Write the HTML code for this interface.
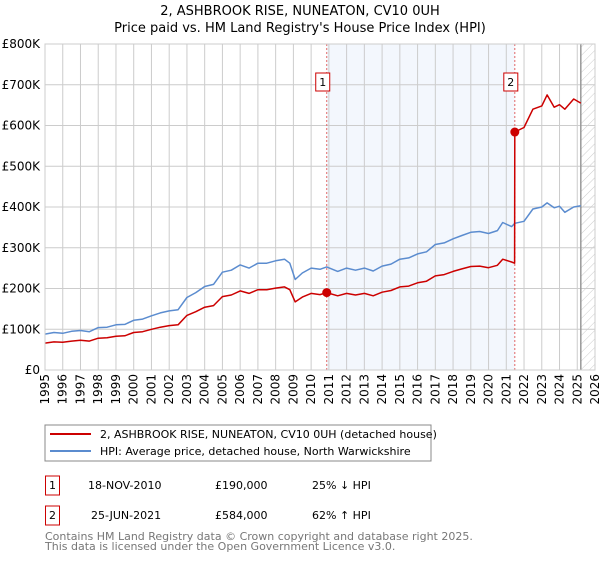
<!DOCTYPE html>
<html><head><meta charset="utf-8"><style>
body{margin:0;background:#fff;}
svg{font-family:"DejaVu Sans","Liberation Sans",sans-serif;}
</style></head><body>
<svg id="chart" width="600" height="560" xmlns="http://www.w3.org/2000/svg">
<defs><pattern id="hatch" width="6" height="6" patternUnits="userSpaceOnUse" patternTransform="rotate(45)"><line x1="0" y1="0" x2="0" y2="6" stroke="#ccc" stroke-width="1"/></pattern></defs>
<text x="300" y="15" text-anchor="middle" font-size="13">2, ASHBROOK RISE, NUNEATON, CV10 0UH</text>
<text x="300" y="32" text-anchor="middle" font-size="13">Price paid vs. HM Land Registry's House Price Index (HPI)</text>
<g id="plot"></g>
<rect x="45" y="425" width="386" height="36" fill="#fff" stroke="#888"/>
<line x1="50" y1="434" x2="91" y2="434" stroke="#cc0000" stroke-width="2"/>
<text x="100" y="438" font-size="11">2, ASHBROOK RISE, NUNEATON, CV10 0UH (detached house)</text>
<line x1="50" y1="451" x2="91" y2="451" stroke="#5b8ccf" stroke-width="2"/>
<text x="100" y="455" font-size="11">HPI: Average price, detached house, North Warwickshire</text>
<g font-size="11">
<rect x="45.5" y="476" width="14" height="19" fill="none" stroke="#cc0000"/>
<text x="52.5" y="489" text-anchor="middle">1</text>
<text x="88" y="489">18-NOV-2010</text>
<text x="215" y="489">£190,000</text>
<text x="312" y="489">25% ↓ HPI</text>
<rect x="45.5" y="506" width="14" height="19" fill="none" stroke="#cc0000"/>
<text x="52.5" y="519" text-anchor="middle">2</text>
<text x="91" y="519">25-JUN-2021</text>
<text x="215" y="519">£584,000</text>
<text x="312" y="519">62% ↑ HPI</text>
</g>
<text x="45" y="540" font-size="11" fill="#777">Contains HM Land Registry data © Crown copyright and database right 2025.</text>
<text x="45" y="550" font-size="11" fill="#777">This data is licensed under the Open Government Licence v3.0.</text>
</svg>
<script>
const hpiYears=[1995,1995.5,1996,1996.5,1997,1997.5,1998,1998.5,1999,1999.5,2000,2000.5,2001,2001.5,2002,2002.5,2003,2003.5,2004,2004.5,2005,2005.5,2006,2006.5,2007,2007.5,2008,2008.5,2008.8,2009.1,2009.5,2010,2010.5,2010.88,2011.5,2012,2012.5,2013,2013.5,2014,2014.5,2015,2015.5,2016,2016.5,2017,2017.5,2018,2018.5,2019,2019.5,2020,2020.5,2020.8,2021.3,2021.48,2022,2022.5,2023,2023.3,2023.7,2024,2024.3,2024.8,2025.2];
const hpiValues=[88,92,90,95,97,94,104,105,111,112,122,125,133,140,145,148,178,190,205,210,240,245,258,250,262,262,268,272,262,222,238,250,247,253,242,250,245,250,243,255,260,272,275,285,290,308,312,322,330,338,340,335,342,362,352,360,365,395,400,410,398,402,387,400,403];
const redYears=[1995,1995.5,1996,1996.5,1997,1997.5,1998,1998.5,1999,1999.5,2000,2000.5,2001,2001.5,2002,2002.5,2003,2003.5,2004,2004.5,2005,2005.5,2006,2006.5,2007,2007.5,2008,2008.5,2008.8,2009.1,2009.5,2010,2010.5,2010.88,2011.5,2012,2012.5,2013,2013.5,2014,2014.5,2015,2015.5,2016,2016.5,2017,2017.5,2018,2018.5,2019,2019.5,2020,2020.5,2020.8,2021.3,2021.47,2021.48,2022,2022.5,2023,2023.3,2023.7,2024,2024.3,2024.8,2025.2];
const redValues=[66,69,68,71,73,71,78,79,83,84,92,94,100,105,109,111,134,143,154,158,180,184,194,188,197,197,201,204,197,167,179,188,185,190,182,188,184,188,182,191,195,204,206,214,218,231,234,242,248,254,255,251,257,272,265,262,584,595,640,648,675,645,651,640,665,655];
const saleYears=[2010.88,2021.48];
const saleValues=[190,584];
const saleLabels=["1","2"];
const yTicks=[0,100,200,300,400,500,600,700,800];
const yTickLabels=["£0","£100K","£200K","£300K","£400K","£500K","£600K","£700K","£800K"];
const xTicks=[1995,1996,1997,1998,1999,2000,2001,2002,2003,2004,2005,2006,2007,2008,2009,2010,2011,2012,2013,2014,2015,2016,2017,2018,2019,2020,2021,2022,2023,2024,2025,2026];
const forecastStart=2025.2;

const L=45,R=595,T=44,B=370;
const xS=y=>L+(y-1995)/(2026-1995)*(R-L);
const yS=v=>B-v/800*(B-T);
const NS="http://www.w3.org/2000/svg";
const g=document.getElementById('plot');
function mk(tag,attrs,parent){const e=document.createElementNS(NS,tag);for(const k in attrs)e.setAttribute(k,attrs[k]);(parent||g).appendChild(e);return e;}

let e=mk('rect',{x:xS(saleYears[0]),y:T,width:xS(saleYears[1])-xS(saleYears[0]),height:B-T,fill:'#eef3fc',opacity:0.7});


e=mk('rect',{x:xS(forecastStart),y:T,width:R-xS(forecastStart),height:B-T,fill:'url(#hatch)'});


xTicks.forEach(t=>{
 let l=mk('line',{x1:xS(t),x2:xS(t),y1:T,y2:B,stroke:'#ccc','stroke-width':1});
 
 
 let tx=mk('text',{x:0,y:0,'font-size':12,'text-anchor':'end',transform:`translate(${xS(t)+4},374) rotate(-90)`});
 tx.textContent=t;
 
 
});
yTicks.forEach((t,i)=>{
 let l=mk('line',{x1:L,x2:R,y1:yS(t),y2:yS(t),stroke:'#ccc','stroke-width':1});
 
 
 let tx=mk('text',{x:40,y:yS(t)+4,'font-size':12,'text-anchor':'end'});
 tx.textContent=yTickLabels[i];
 
 
});
e=mk('line',{x1:xS(forecastStart),x2:xS(forecastStart),y1:T,y2:B,stroke:'#999','stroke-width':1.5});


saleYears.forEach((s,i)=>{
 let l=mk('line',{x1:xS(s),x2:xS(s),y1:T,y2:B,stroke:'#e06666','stroke-width':1,'stroke-dasharray':'2,2'});
 
 
});
function path(xs,vs,color,name){
 const d=xs.map((x,i)=>(i?'L':'M')+xS(x).toFixed(1)+','+yS(vs[i]).toFixed(1)).join('');
 let p=mk('path',{d:d,fill:'none',stroke:color,'stroke-width':1.5,'stroke-linejoin':'round'});
 
 
}
path(hpiYears,hpiValues,'#5b8ccf','hpi-line');
path(redYears,redValues,'#cc0000','property-price-line');
saleYears.forEach((s,i)=>{
 let c=mk('circle',{cx:xS(s),cy:yS(saleValues[i]),r:4.5,fill:'#cc0000'});
 
 
 let b=mk('rect',{x:xS(s)-11,y:73,width:14,height:18,fill:'#fff',stroke:'#cc0000'});
 
 
 let t=mk('text',{x:xS(s)-4,y:86,'font-size':11,'text-anchor':'middle'});
 t.textContent=saleLabels[i];
 
 
});
e=mk('rect',{x:L,y:T,width:R-L,height:B-T,fill:'none',stroke:'#ccc'});


</script>
</body></html>
